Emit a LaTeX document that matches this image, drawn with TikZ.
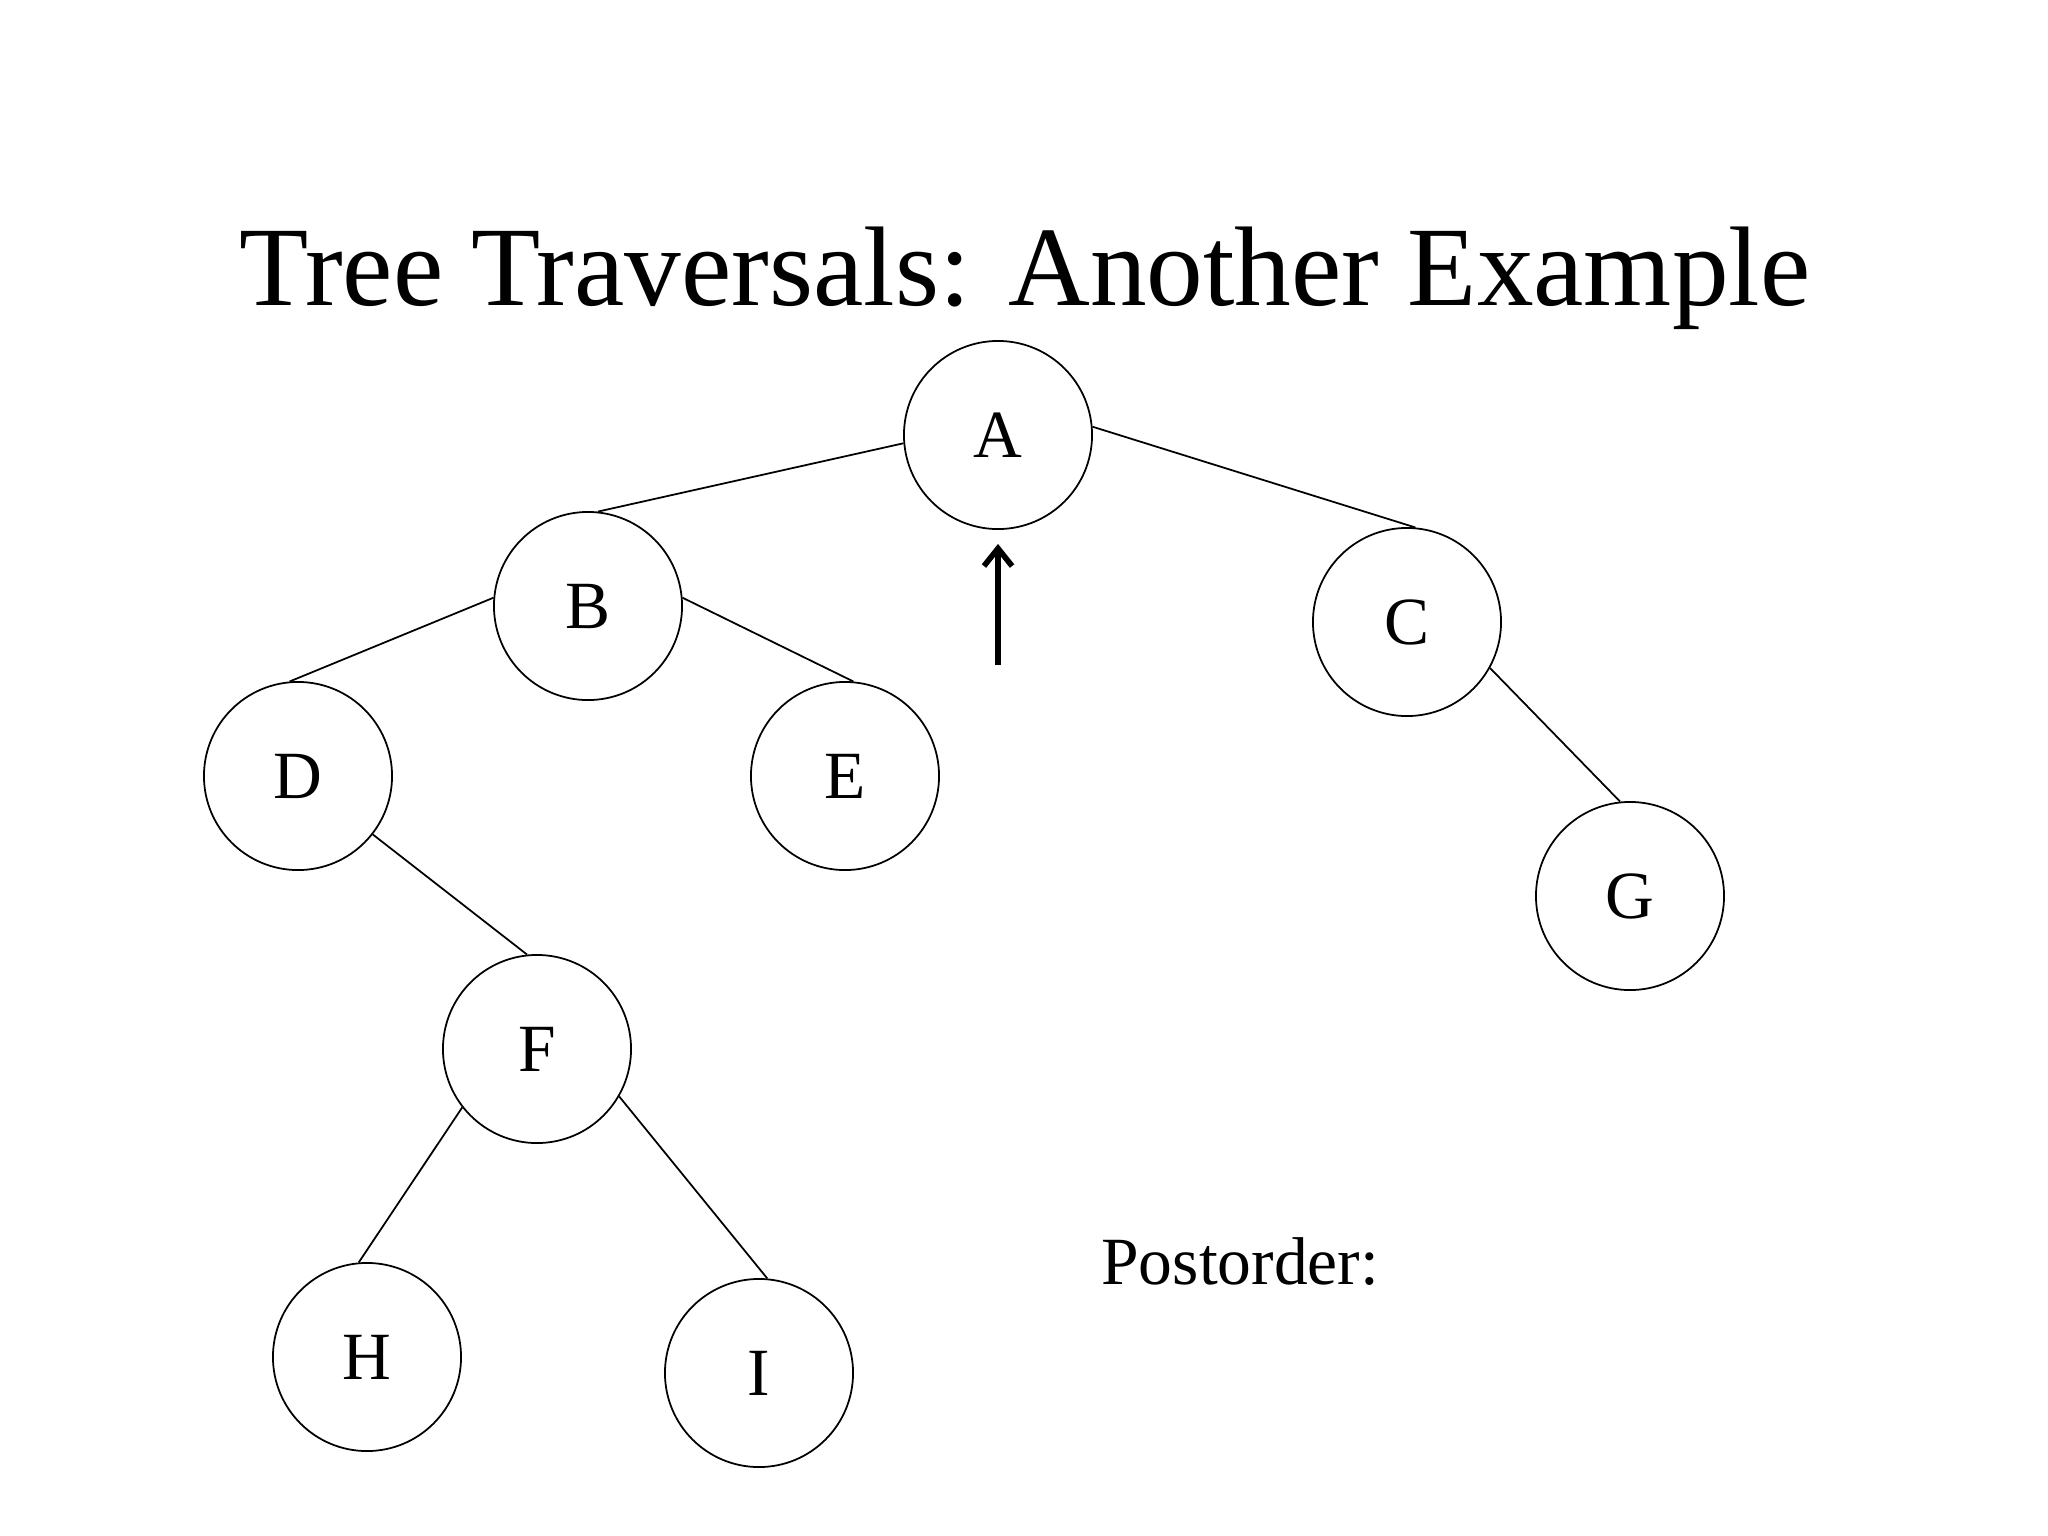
\documentclass[tikz,border=0pt]{standalone}
\usepackage{fontspec}
\setmainfont{Liberation Serif}
\usetikzlibrary{arrows.meta}

\begin{document}
\begin{tikzpicture}[x=0.01cm,y=-0.01cm,
        vertex/.style={circle, draw, line width=0.5pt, minimum size=1.88cm, inner sep=0pt,
            font=\fontsize{19.2}{23}\selectfont},
        branch/.style={line width=0.5pt},
        pointer/.style={line width=1.6pt, -{Straight Barb[length=5pt,width=8pt]}}]
        \useasboundingbox (0,0) rectangle (2048,1536);
        \node[anchor=base, font=\fontsize{32.2}{38}\selectfont] (title) at (1025,305) {Tree Traversals: Another Example};
        \node[vertex] (A) at (998,435) {A};
        \node[vertex] (B) at (588,606) {B};
        \node[vertex] (C) at (1407,622) {C};
        \node[vertex] (D) at (298,776) {D};
        \node[vertex] (E) at (845,776) {E};
        \node[vertex] (F) at (537,1049) {F};
        \node[vertex] (G) at (1630,896) {G};
        \node[vertex] (H) at (367,1357) {H};
        \node[vertex] (I) at (759,1373) {I};
        \draw[branch] (A.185) -- (B.84);
        \draw[branch] (A.5) -- (C.85);
        \draw[branch] (B.175) -- (D.95);
        \draw[branch] (B.5) -- (E.85);
        \draw[branch] (C.-29) -- (G.96);
        \draw[branch] (D.-38) -- (F.96);
        \draw[branch] (F.-142) -- (H.95);
        \draw[branch] (F.-30) -- (I.85);
        \coordinate (ptr) at (998,665);
        \draw[pointer] (ptr) -- ([yshift=-0.14cm]A.south);
        \node[anchor=base west, font=\fontsize{19.2}{23}\selectfont] (post) at (1089,1284) {Postorder:};
\end{tikzpicture}
\end{document}
